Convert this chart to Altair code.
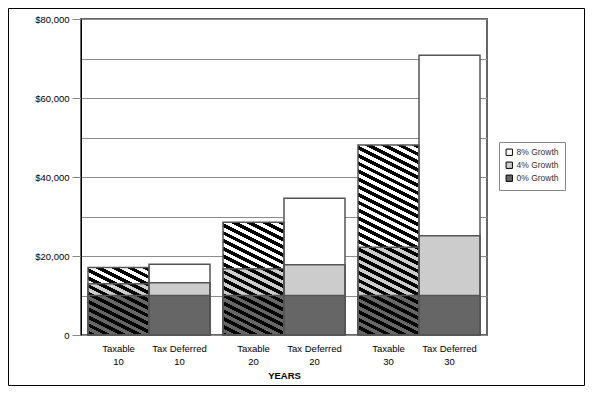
import altair as alt
import pandas as pd

# ---- data ----
years = ["10", "20", "30"]
accounts = ["Taxable", "Tax Deferred"]
growth_labels = ["8% Growth", "4% Growth", "0% Growth"]
growth_colors = ["#ffffff", "#cccccc", "#666666"]
# bar order: Taxable 10, Tax Deferred 10, Taxable 20, Tax Deferred 20, Taxable 30, Tax Deferred 30
value_0 = [10000, 10000, 10000, 10000, 10000, 10000]
value_4 = [13000, 13240, 16800, 17800, 22200, 25140]
value_8 = [17100, 17900, 28530, 34600, 48100, 70800]
y_ticks = [0, 10000, 20000, 30000, 40000, 50000, 60000, 70000, 80000]

W, H = 406, 316
YMAX = 80000
FONT = "Liberation Sans"

P_INNER = 13 / 135
P_OUTER = 7 / 135

bar_year = [y for y in years for _ in accounts]
bar_acct = [a for _ in years for a in accounts]
rows = []
for g, vals in zip(growth_labels, [value_8, value_4, value_0]):
    for yr, ac, v in zip(bar_year, bar_acct, vals):
        rows.append({"year": yr, "account": ac, "growth": g, "value": v,
                     "label": f"{ac}\n{yr}"})
df = pd.DataFrame(rows)

x_enc = alt.X("year:N", sort=years,
              scale=alt.Scale(paddingInner=P_INNER, paddingOuter=P_OUTER),
              axis=alt.Axis(labels=False, ticks=False, domain=False, title="YEARS",
                            titleFont=FONT, titleFontSize=9.5, titleFontWeight="bold",
                            titleColor="black", titleY=35, titleBaseline="top"))
xo_enc = alt.XOffset("account:N", sort=accounts,
                     scale=alt.Scale(domain=accounts, paddingInner=0, paddingOuter=0))
y_enc = alt.Y("value:Q", stack=None,
              scale=alt.Scale(domain=[0, YMAX], nice=False),
              axis=alt.Axis(values=y_ticks, title=None,
                            labelExpr="datum.value == 0 ? '0' : (datum.value % 20000 == 0 ? '$' + format(datum.value, ',') : '')",
                            tickOpacity={"condition": {"test": "datum.value % 20000 == 0", "value": 1}, "value": 0},
                            tickSize=9, tickColor="#888888", tickWidth=1,
                            grid=True, gridColor="#8c8c8c", gridWidth=1,
                            domainColor="black", domainWidth=1,
                            labelFont=FONT, labelFontSize=9.5, labelColor="black",
                            labelPadding=3))

base = alt.Chart(df)

bars = base.mark_bar(strokeWidth=0).encode(
    x=x_enc, xOffset=xo_enc, y=y_enc,
    fill=alt.Fill("growth:N", sort=growth_labels,
                  scale=alt.Scale(domain=growth_labels, range=growth_colors),
                  legend=alt.Legend(orient="none", legendX=418, legendY=123, title=None,
                                    symbolType="square", symbolSize=40,
                                    symbolStrokeColor="black", symbolStrokeWidth=1,
                                    labelFont=FONT, labelFontSize=8.5, labelColor="#333333",
                                    padding=6, strokeColor="#888888", fillColor="white",
                                    rowPadding=2, labelOffset=3)),
)


def hatch(w, h, period=7.8, frac=0.5, slope=0.5):
    L = h + slope * w
    denom = (slope * w) ** 2 + h ** 2
    dx = -slope * w * L / denom
    dy = h * L / denom
    black, clear = "#000000", "rgba(0,0,0,0)"
    stops = []
    k = 0
    while k * period < L:
        a = k * period / L
        b = min((k * period + frac * period) / L, 1.0)
        c = min((k + 1) * period / L, 1.0)
        stops += [{"offset": a, "color": black}, {"offset": b, "color": black},
                  {"offset": b, "color": clear}, {"offset": c, "color": clear}]
        k += 1
    return {"gradient": "linear", "x1": 1, "y1": 0, "x2": 1 + dx, "y2": dy,
            "stops": stops}


step = W / (len(years) - P_INNER + 2 * P_OUTER)
bar_w = step * (1 - P_INNER) / 2

hatch_layers = []
for i, yr in enumerate(years):
    total = value_8[2 * i]
    h = total * H / YMAX
    hatch_layers.append(
        base.transform_filter(
            (alt.datum.year == yr) & (alt.datum.account == "Taxable") & (alt.datum.growth == "8% Growth")
        ).mark_bar(fill=hatch(bar_w, h), strokeWidth=0).encode(
            x=x_enc, xOffset=xo_enc, y=y_enc)
    )

outlines = base.mark_bar(fillOpacity=0, stroke="#555555", strokeWidth=1.5).encode(
    x=x_enc, xOffset=xo_enc, y=y_enc)

labels = base.transform_filter(alt.datum.growth == "0% Growth").mark_text(
    lineBreak="\n", baseline="top", align="center", font=FONT, fontSize=9.5,
    lineHeight=13, color="black"
).encode(x=x_enc, xOffset=xo_enc, y=alt.value(325), text="label:N")

frame = alt.Chart(pd.DataFrame({"a": [0]})).mark_rect(
    fillOpacity=0, stroke="black", strokeWidth=1
).encode(x=alt.value(-72.5), x2=alt.value(503.5), y=alt.value(-10.5), y2=alt.value(366.5))

chart = alt.layer(bars, *hatch_layers, outlines, labels, frame).properties(
    width=W, height=H,
    autosize=alt.AutoSizeParams(type="none"),
    padding={"left": 73, "top": 11, "right": 98, "bottom": 51},
).configure_view(stroke="#666666", strokeWidth=2)

chart.save("out.html", embed_options={"renderer": "svg", "actions": False})
